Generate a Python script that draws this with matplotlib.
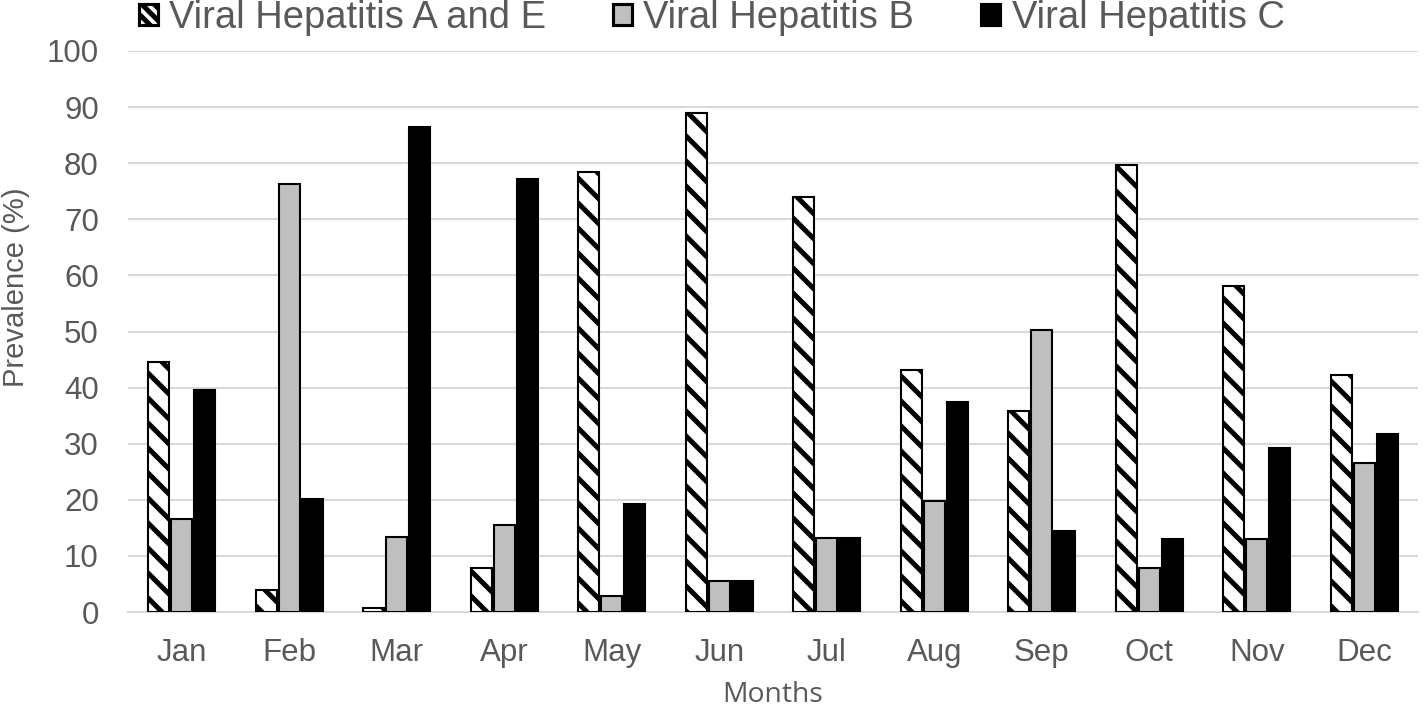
import matplotlib
matplotlib.use("Agg")
import matplotlib.pyplot as plt
import numpy as np
from matplotlib.patches import Patch

months = ["Jan", "Feb", "Mar", "Apr", "May", "Jun", "Jul", "Aug", "Sep", "Oct", "Nov", "Dec"]
hep_ae = [44.5, 4.0, 0.7, 7.8, 78.5, 89.0, 74.0, 43.2, 35.9, 79.7, 58.1, 42.2]
hep_b = [16.5, 76.3, 13.3, 15.5, 2.8, 5.6, 13.2, 19.8, 50.2, 7.8, 13.1, 26.5]
hep_c = [39.5, 20.2, 86.5, 77.1, 19.2, 5.6, 13.2, 37.4, 14.5, 13.1, 29.2, 31.8]
labels = ["Viral Hepatitis A and E", "Viral Hepatitis B", "Viral Hepatitis C"]

plt.rcParams['font.family'] = ['Liberation Sans', 'DejaVu Sans']
plt.rcParams['hatch.linewidth'] = 2.4
txt = "#595959"
grid = "#d9d9d9"

dpi = 150
fig = plt.figure(figsize=(1424 / dpi, 708 / dpi), dpi=dpi)
ax = fig.add_axes([128 / 1424, 96 / 708, 1290 / 1424, 561 / 708])

x = np.arange(len(months))
w = 0.195
off = 0.214
ax.bar(x - off, hep_ae, w, color="white", edgecolor="black", hatch="\\\\", lw=1.0, zorder=3)
ax.bar(x, hep_b, w, color="#bfbfbf", edgecolor="black", lw=1.0, zorder=3)
ax.bar(x + off, hep_c, w, color="black", edgecolor="black", lw=1.0, zorder=3)

ax.set_xlim(-0.5, 11.5)
ax.set_ylim(0, 100)
ax.set_yticks(range(0, 101, 10))
ax.set_xticks(x)
ax.set_xticklabels(months)
ax.yaxis.grid(True, color=grid, lw=1.0)
ax.set_axisbelow(True)
for s in ["top", "right", "left"]:
    ax.spines[s].set_visible(False)
ax.spines["bottom"].set_color(grid)
ax.spines["bottom"].set_linewidth(1.0)
ax.tick_params(axis="both", length=0, labelsize=15, labelcolor=txt)
ax.tick_params(axis="y", pad=14)
ax.tick_params(axis="x", pad=12.5)

# axis titles placed in figure pixels
fig.text(16 / 1424, 1 - 287 / 708, "Prevalence (%)", rotation=90, fontsize=14, color=txt,
         ha="center", va="center")
fig.text(773 / 1424, 1 - 695 / 708, "Months", fontsize=13.6, color=txt,
         family=["Open Sans", "DejaVu Sans"], ha="center", va="center")

handles = [
    Patch(facecolor="white", edgecolor="black", hatch="\\\\\\\\", lw=1.5),
    Patch(facecolor="#bfbfbf", edgecolor="black", lw=1.5),
    Patch(facecolor="black", edgecolor="black", lw=1.5),
]
leg = fig.legend(handles, labels, loc="center", bbox_to_anchor=(0.4997, 1 - 18 / 708), ncol=3,
                 frameon=False, fontsize=18.3, handlelength=0.5, handleheight=0.5,
                 handletextpad=0.3, columnspacing=1.75, borderpad=0)
for t in leg.get_texts():
    t.set_color(txt)

fig.savefig("out.png", dpi=dpi)
